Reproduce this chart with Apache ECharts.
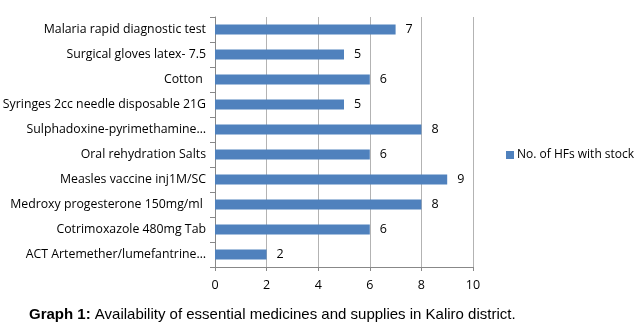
<!DOCTYPE html>
<html>
<head>
<meta charset="utf-8">
<script src="https://cdn.jsdelivr.net/npm/echarts@6/dist/echarts.min.js"></script>
<style>
  html, body { margin: 0; padding: 0; background: #fff; }
  #chart { width: 641px; height: 325px; }
</style>
</head>
<body>
<div id="chart"></div>
<script>
// items listed top to bottom as in the graph
const categories = [
  'Malaria rapid diagnostic test',
  'Surgical gloves latex- 7.5',
  'Cotton ',
  'Syringes 2cc needle disposable 21G',
  'Sulphadoxine-pyrimethamine\u2026',
  'Oral rehydration Salts',
  'Measles vaccine inj1M/SC',
  'Medroxy progesterone 150mg/ml ',
  'Cotrimoxazole 480mg Tab',
  'ACT Artemether/lumefantrine\u2026'
]
const stockCounts = [7, 5, 6, 5, 8, 6, 9, 8, 6, 2]
const seriesName = 'No. of HFs with stock'
const xTicks = [0, 2, 4, 6, 8, 10]

const font = 'Open Sans'
const chart = echarts.init(document.getElementById('chart'))

chart.setOption({
  animation: false,
  title: {
    text: '{b|Graph 1:} Availability of essential medicines and supplies in Kaliro district.',
    left: 24,
    top: 302,
    textStyle: {
      fontFamily: 'Liberation Sans',
      fontSize: 15,
      fontWeight: 'normal',
      color: '#000',
      rich: {
        b: { fontFamily: 'Liberation Sans', fontSize: 15, fontWeight: 'bold', color: '#000' }
      }
    }
  },
  legend: {
    data: [seriesName],
    left: 501,
    top: 144,
    itemWidth: 8,
    itemHeight: 8,
    itemGap: 4,
    icon: 'rect',
    textStyle: { fontFamily: font, fontSize: 12, color: '#000', padding: [0, 0, 0, -2] }
  },
  grid: { left: 215, right: 168, top: 17, bottom: 58, outerBoundsMode: 'none' },
  xAxis: {
    type: 'value',
    min: 0,
    max: 10,
    interval: 2,
    axisLine: { show: true, lineStyle: { color: '#888' } },
    axisTick: { show: true, length: 4, lineStyle: { color: '#888' } },
    axisLabel: {
      fontFamily: font, fontSize: 12.5, color: '#000', margin: 12,
      formatter: v => xTicks.includes(v) ? String(v) : ''
    },
    splitLine: { show: true, lineStyle: { color: '#b3b3b3' } }
  },
  yAxis: {
    type: 'category',
    data: categories,
    inverse: true,
    axisLine: { show: true, lineStyle: { color: '#888' } },
    axisTick: { show: true, length: 5, lineStyle: { color: '#888' } },
    axisLabel: { fontFamily: font, fontSize: 12.3, color: '#000', margin: 9 }
  },
  series: [{
    name: seriesName,
    type: 'bar',
    data: stockCounts,
    barWidth: 10,
    itemStyle: { color: '#4f81bd' },
    label: {
      show: true,
      position: 'right',
      distance: 10,
      fontFamily: font,
      fontSize: 12.5,
      color: '#000'
    }
  }]
})
</script>
</body>
</html>
